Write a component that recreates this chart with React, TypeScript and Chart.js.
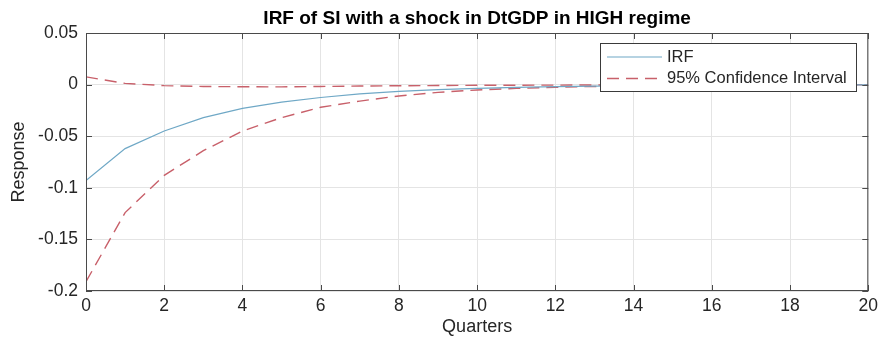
import React, { useEffect, useRef } from "react";
import { Chart, registerables } from "chart.js";

Chart.register(...registerables);

const quarters = [0, 1, 2, 3, 4, 5, 6, 7, 8, 9, 10, 11, 12, 13, 14, 15, 16, 17, 18, 19, 20];
const irf = [-0.093, -0.062, -0.045, -0.032, -0.023, -0.017, -0.0125, -0.009, -0.0065, -0.0048, -0.0036, -0.0027, -0.002, -0.0015, -0.0011, -0.0008, -0.0006, -0.00045, -0.00035, -0.00025, -0.0002];
const ciLower = [-0.191, -0.124, -0.088, -0.064, -0.045, -0.032, -0.022, -0.016, -0.011, -0.0075, -0.0052, -0.0037, -0.0026, -0.0018, -0.0013, -0.0009, -0.0007, -0.0005, -0.0004, -0.0003, -0.0002];
const ciUpper = [0.0075, 0.0012, -0.001, -0.0018, -0.0021, -0.0022, -0.0018, -0.0014, -0.0011, -0.0009, -0.0007, -0.0006, -0.0005, -0.0004, -0.0003, -0.0003, -0.0002, -0.0002, -0.0001, -0.0001, -0.0001];
const xTicks = [0, 2, 4, 6, 8, 10, 12, 14, 16, 18, 20];
const yTicks = [0.05, 0, -0.05, -0.1, -0.15, -0.2];
const titleText = "IRF of SI with a shock in DtGDP in HIGH regime";
const legendLabels = ["IRF", "95% Confidence Interval"];

const FONT = "'Liberation Sans', Arial, Helvetica, sans-serif";
const IRF_COLOR = "#6fa8c6";
const CI_COLOR = "#c8606a";
const TEXT_COLOR = "#262626";
const BOX_COLOR = "#4a4a4a";

const matlabPlugin = {
  id: "matlabDecor",
  afterDatasetsDraw(chart: any) {
    const { ctx, chartArea } = chart;
    const { left, right, top, bottom } = chartArea;
    const xs = chart.scales.x;
    const ys = chart.scales.y;
    ctx.save();
    ctx.strokeStyle = BOX_COLOR;
    ctx.lineWidth = 1;
    ctx.strokeRect(left + 0.5, top + 0.5, right - left - 1, bottom - top - 1);
    const tl = 6;
    ctx.beginPath();
    xTicks.forEach((v) => {
      const px = Math.round(xs.getPixelForValue(v)) + 0.5;
      ctx.moveTo(px, bottom);
      ctx.lineTo(px, bottom - tl);
      ctx.moveTo(px, top);
      ctx.lineTo(px, top + tl);
    });
    yTicks.forEach((v) => {
      const py = Math.round(ys.getPixelForValue(v)) + 0.5;
      ctx.moveTo(left, py);
      ctx.lineTo(left + tl, py);
      ctx.moveTo(right, py);
      ctx.lineTo(right - tl, py);
    });
    ctx.stroke();

    ctx.fillStyle = "#000";
    ctx.font = `bold 19px ${FONT}`;
    ctx.textAlign = "center";
    ctx.textBaseline = "middle";
    ctx.fillText(titleText, (left + right) / 2, 19);

    const lx = 600, ly = 43, lw = 256, lh = 48;
    ctx.fillStyle = "#fff";
    ctx.fillRect(lx, ly, lw, lh);
    ctx.strokeStyle = "#3a3a3a";
    ctx.lineWidth = 1;
    ctx.strokeRect(lx + 0.5, ly + 0.5, lw, lh);
    ctx.lineWidth = 1.2;
    ctx.strokeStyle = IRF_COLOR;
    ctx.beginPath();
    ctx.moveTo(607, 57);
    ctx.lineTo(662, 57);
    ctx.stroke();
    ctx.strokeStyle = CI_COLOR;
    ctx.lineWidth = 1.4;
    ctx.setLineDash([12, 7]);
    ctx.beginPath();
    ctx.moveTo(607, 78.5);
    ctx.lineTo(662, 78.5);
    ctx.stroke();
    ctx.setLineDash([]);
    ctx.fillStyle = TEXT_COLOR;
    ctx.font = `16.5px ${FONT}`;
    ctx.textAlign = "left";
    ctx.fillText(legendLabels[0], 667, 57);
    ctx.fillText(legendLabels[1], 667, 78.5);
    ctx.restore();
  },
};

export default function App() {
  const ref = useRef<HTMLCanvasElement | null>(null);
  useEffect(() => {
    if (!ref.current) return;
    const mk = (arr: number[]) => quarters.map((q, i) => ({ x: q, y: arr[i] }));
    const chart = new Chart(ref.current, {
      type: "line",
      data: {
        datasets: [
          { label: legendLabels[0], data: mk(irf), borderColor: IRF_COLOR, borderWidth: 1.2, pointRadius: 0, tension: 0, fill: false },
          { label: legendLabels[1], data: mk(ciLower), borderColor: CI_COLOR, borderWidth: 1.4, borderDash: [12, 7], pointRadius: 0, tension: 0, fill: false },
          { label: "upper", data: mk(ciUpper), borderColor: CI_COLOR, borderWidth: 1.4, borderDash: [12, 7], pointRadius: 0, tension: 0, fill: false },
        ],
      },
      options: {
        responsive: false,
        animation: false,
        layout: { padding: { left: 0, top: 33, right: 13, bottom: 0 } },
        plugins: { legend: { display: false }, title: { display: false }, tooltip: { enabled: false } },
        scales: {
          x: {
            type: "linear",
            min: 0,
            max: 20,
            afterFit: (s: any) => { s.height = 61; },
            afterBuildTicks: (s: any) => { s.ticks = xTicks.map((v) => ({ value: v })); },
            ticks: { color: TEXT_COLOR, font: { family: FONT, size: 17.5 }, padding: 5, maxRotation: 0, autoSkip: false, callback: (v: any) => String(v) },
            grid: { color: "#e4e4e4", drawTicks: false, lineWidth: 1 },
            border: { display: false },
            title: { display: true, text: "Quarters", color: TEXT_COLOR, font: { family: FONT, size: 18 }, padding: { top: 4, bottom: 14 } },
          },
          y: {
            type: "linear",
            min: -0.2,
            max: 0.05,
            afterFit: (s: any) => { s.width = 86; },
            afterBuildTicks: (s: any) => { s.ticks = yTicks.map((v) => ({ value: v })); },
            ticks: { color: TEXT_COLOR, font: { family: FONT, size: 17.5 }, padding: 8, autoSkip: false, callback: (v: any) => String(Number(Number(v).toFixed(2))) },
            grid: { color: "#e4e4e4", drawTicks: false, lineWidth: 1 },
            border: { display: false },
            title: { display: true, text: "Response", color: TEXT_COLOR, font: { family: FONT, size: 18 }, padding: { top: 8, bottom: 0 } },
          },
        },
      },
      plugins: [matlabPlugin],
    });
    return () => chart.destroy();
  }, []);
  return (
    <div style={{ position: "fixed", left: 0, top: 0, width: 883, height: 352, background: "#fff" }}>
      <canvas ref={ref} width={883} height={352} />
    </div>
  );
}
